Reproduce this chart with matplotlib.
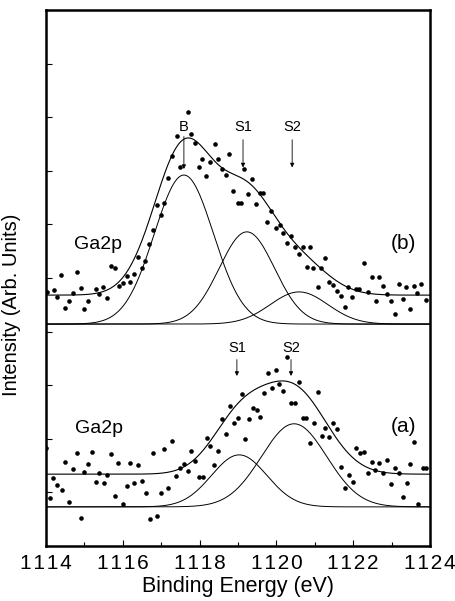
import numpy as np
import matplotlib.pyplot as plt

plt.rcParams['font.family'] = ['Liberation Sans', 'DejaVu Sans']

# panel (b) measured points
energy_b = [1114.03, 1114.21, 1114.29, 1114.39, 1114.49, 1114.60, 1114.70, 1114.81, 1114.91, 1114.99,
            1115.09, 1115.30, 1115.38, 1115.48, 1115.59, 1115.69, 1115.80, 1115.90, 1116.01, 1116.11,
            1116.19, 1116.29, 1116.40, 1116.50, 1116.58, 1116.68, 1116.79, 1116.89, 1116.99, 1117.07,
            1117.18, 1117.28, 1117.41, 1117.49, 1117.70, 1117.78, 1117.88, 1117.98, 1118.06, 1118.17,
            1118.27, 1118.40, 1118.48, 1118.58, 1118.69, 1118.77, 1118.87, 1119.00, 1119.08, 1119.16,
            1119.26, 1119.36, 1119.47, 1119.57, 1119.65, 1119.76, 1119.86, 1119.99, 1120.09, 1120.17,
            1120.28, 1120.38, 1120.48, 1120.59, 1120.69, 1120.80, 1120.88, 1120.95, 1121.08, 1121.16,
            1121.27, 1121.37, 1121.47, 1121.58, 1121.68, 1121.79, 1121.86, 1121.97, 1122.07, 1122.15,
            1122.28, 1122.39, 1122.49, 1122.59, 1122.67, 1122.78, 1122.88, 1122.98, 1123.09, 1123.19,
            1123.30, 1123.38, 1123.48, 1123.58, 1123.66, 1123.77, 1123.90]
counts_b = [4.74, 4.78, 4.65, 5.06, 4.44, 4.57, 4.72, 5.11, 4.81, 4.42,
            4.57, 4.79, 4.70, 4.83, 4.63, 5.22, 5.19, 4.85, 4.91, 5.04,
            4.93, 5.07, 5.39, 5.19, 5.32, 5.63, 5.90, 6.36, 6.18, 6.40,
            6.87, 7.28, 7.65, 7.07, 8.10, 7.69, 7.52, 7.07, 7.22, 6.90,
            7.16, 7.50, 7.22, 7.03, 6.92, 7.31, 6.62, 6.40, 6.40, 7.03,
            6.57, 6.85, 6.38, 6.59, 6.59, 6.04, 6.25, 5.93, 5.99, 5.84,
            5.65, 5.78, 5.58, 5.45, 5.58, 5.21, 5.58, 5.19, 4.83, 5.19,
            5.37, 4.93, 4.87, 4.76, 4.66, 4.46, 4.83, 4.65, 4.79, 4.79,
            5.28, 4.74, 5.02, 4.57, 5.02, 4.85, 4.70, 4.57, 4.33, 4.89,
            4.61, 4.83, 4.42, 4.85, 4.72, 4.89, 4.59]

# panel (a) measured points
energy_a = [1114.00, 1114.10, 1114.18, 1114.29, 1114.42, 1114.49, 1114.60, 1114.70, 1114.81, 1114.91,
            1114.99, 1115.09, 1115.20, 1115.30, 1115.38, 1115.51, 1115.59, 1115.69, 1115.80, 1115.88,
            1116.01, 1116.11, 1116.19, 1116.29, 1116.40, 1116.50, 1116.60, 1116.71, 1116.79, 1116.89,
            1116.99, 1117.07, 1117.18, 1117.28, 1117.39, 1117.49, 1117.59, 1117.70, 1117.78, 1117.88,
            1117.98, 1118.09, 1118.19, 1118.27, 1118.38, 1118.48, 1118.58, 1118.69, 1118.79, 1118.90,
            1119.00, 1119.10, 1119.18, 1119.29, 1119.39, 1119.49, 1119.57, 1119.68, 1119.78, 1119.89,
            1119.99, 1120.07, 1120.17, 1120.28, 1120.38, 1120.48, 1120.59, 1120.69, 1120.77, 1120.88,
            1120.98, 1121.08, 1121.19, 1121.27, 1121.37, 1121.47, 1121.58, 1121.68, 1121.79, 1121.89,
            1121.99, 1122.07, 1122.18, 1122.28, 1122.39, 1122.49, 1122.57, 1122.67, 1122.78, 1122.88,
            1122.98, 1123.09, 1123.19, 1123.30, 1123.40, 1123.48, 1123.58, 1123.69, 1123.82, 1123.90]
counts_a = [1.83, 0.90, 1.27, 1.14, 1.04, 1.57, 0.82, 1.44, 1.74, 0.52,
            1.38, 1.53, 1.75, 1.19, 1.36, 1.18, 1.32, 1.72, 0.93, 1.55,
            0.78, 1.12, 1.55, 1.18, 1.51, 1.21, 0.99, 0.50, 1.74, 0.56,
            0.99, 1.81, 1.08, 1.96, 1.31, 1.46, 1.53, 1.40, 1.77, 1.59,
            1.29, 1.29, 2.01, 1.87, 1.51, 1.77, 2.37, 2.09, 2.61, 2.29,
            2.39, 2.84, 2.00, 2.37, 2.57, 2.54, 2.41, 2.85, 3.23, 2.95,
            3.28, 3.02, 2.89, 3.53, 2.67, 2.67, 3.06, 2.39, 2.39, 1.92,
            2.29, 2.87, 2.05, 2.20, 2.03, 2.29, 2.18, 1.47, 1.08, 1.32,
            1.19, 1.83, 1.74, 1.75, 1.36, 1.57, 1.42, 1.55, 1.36, 1.60,
            1.16, 1.46, 1.36, 0.91, 1.18, 1.53, 1.94, 0.78, 1.46, 1.46]

# fitted components: (centre eV, height, sigma)
base_b, bg_b = 4.14, 4.68
peaks_b = [(1117.59, 2.78, 0.77), (1119.23, 1.72, 0.72), (1120.59, 0.60, 0.75)]
base_a, bg_a = 0.73, 1.34
peaks_a = [(1119.03, 0.97, 0.72), (1120.46, 1.55, 0.85)]

xticks = [1114, 1116, 1118, 1120, 1122, 1124]

def gauss(x, c, h, s):
    return h * np.exp(-(x - c) ** 2 / (2 * s ** 2))

fig = plt.figure(figsize=(4.56, 6.01), dpi=100)
ax = fig.add_axes([0.101, 0.0915, 0.842, 0.892])

xx = np.linspace(1114, 1124, 600)
for base, bg, peaks, ex, cnt in [(base_b, bg_b, peaks_b, energy_b, counts_b),
                                 (base_a, bg_a, peaks_a, energy_a, counts_a)]:
    total = np.full_like(xx, bg)
    for c, h, s in peaks:
        g = gauss(xx, c, h, s)
        ax.plot(xx, base + g, color='black', lw=0.7)
        total += g
    ax.plot(xx, total, color='black', lw=0.8)
    ax.plot(ex, cnt, 'o', color='black', ms=3.3, mew=0)

# peak markers
arrow_kw = dict(arrowstyle='-|>', color='black', lw=0.6, mutation_scale=6)
for label, x, ytxt, ytop, ybot in [('B', 1117.59, 7.82, 7.69, 6.98),
                                   ('S1', 1119.13, 7.82, 7.63, 7.01),
                                   ('S2', 1120.41, 7.82, 7.63, 7.01),
                                   ('S1', 1118.97, 3.69, 3.53, 3.12),
                                   ('S2', 1120.38, 3.69, 3.53, 3.12)]:
    ax.text(x, ytxt, label, ha='center', va='center', fontsize=10.5)
    ax.annotate('', xy=(x, ybot), xytext=(x, ytop), arrowprops=arrow_kw)

ax.text(1114.74, 5.62, 'Ga2p', ha='left', va='center', fontsize=14)
ax.text(1114.76, 2.20, 'Ga2p', ha='left', va='center', fontsize=14)
ax.text(1123.30, 5.65, '(b)', ha='center', va='center', fontsize=15)
ax.text(1123.30, 2.22, '(a)', ha='center', va='center', fontsize=15)

ax.set_xlim(1114, 1124)
ax.set_ylim(0, 10)
ax.set_xticks(xticks)
ax.set_xticklabels(['\u200a'.join(str(t)) for t in xticks])
ax.set_xticks(np.arange(1115, 1124, 2), minor=True)
ax.set_yticks(np.arange(0, 11, 1))
ax.set_yticklabels([])
ax.tick_params(direction='in', labelsize=15, length=4, width=0.8, pad=6)
ax.tick_params(which='minor', direction='in', length=3, width=0.8)
for sp in ax.spines.values():
    sp.set_linewidth(1.8)

ax.set_xlabel('Binding Energy (eV)', fontsize=15.5, labelpad=2)
ax.set_ylabel('Intensity (Arb. Units)', fontsize=14.5)
ax.yaxis.set_label_coords(-0.065, 0.45)

fig.savefig('out.png', dpi=100)
